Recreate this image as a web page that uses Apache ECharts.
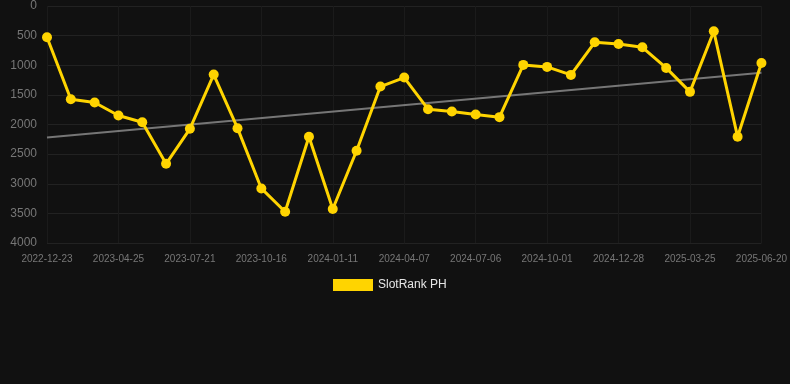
<!DOCTYPE html>
<html><head><meta charset="utf-8">
<script src="https://cdn.jsdelivr.net/npm/echarts@6/dist/echarts.min.js"></script>
<style>html,body{margin:0;padding:0;background:#111111;}#c{width:790px;height:384px;}</style>
</head><body><div id="c"></div>
<script>
const categories = ['2022-12-23','2023-02-25','2023-03-27','2023-04-25','2023-05-24','2023-06-22','2023-07-21','2023-08-19','2023-09-17','2023-10-16','2023-11-14','2023-12-13','2024-01-11','2024-02-09','2024-03-09','2024-04-07','2024-05-07','2024-06-06','2024-07-06','2024-08-04','2024-09-02','2024-10-01','2024-10-30','2024-11-29','2024-12-28','2025-01-26','2025-02-24','2025-03-25','2025-04-23','2025-05-22','2025-06-20'];
const rankValues = [528,1573,1629,1848,1961,2663,2073,1157,2062,3079,3472,2208,3427,2444,1360,1208,1742,1781,1831,1876,994,1028,1163,612,640,697,1045,1449,427,2208,961];
const trendEnds = [2220,1125];
const yTicks = [0,500,1000,1500,2000,2500,3000,3500,4000];

const chart = echarts.init(document.getElementById('c'));
chart.setOption({
  backgroundColor:'#111111',
  animation:false,
  grid:{left:47,right:28,top:6,bottom:141,containLabel:false},
  legend:{data:[{name:'SlotRank PH',icon:'rect'}],top:274,left:328,itemWidth:40,itemHeight:12,itemGap:10,
    textStyle:{color:'#e6e6e6',fontSize:12,fontFamily:'Arial, Liberation Sans, sans-serif'}},
  xAxis:{type:'category',data:categories,boundaryGap:false,
    axisLine:{show:false},
    axisTick:{show:false},
    axisLabel:{interval:2,color:'#777777',fontSize:10,margin:11,fontFamily:'Arial, Liberation Sans, sans-serif'},
    splitLine:{show:true,interval:2,lineStyle:{color:'#1b1b1b'}}},
  yAxis:{type:'value',inverse:true,min:yTicks[0],max:yTicks[yTicks.length-1],interval:500,
    axisLine:{show:false},axisTick:{show:false},
    axisLabel:{color:'#777777',fontSize:12,margin:10,formatter:function(v){return String(v);},fontFamily:'Arial, Liberation Sans, sans-serif'},
    splitLine:{lineStyle:{color:'#222222'}}},
  series:[
    {name:'SlotRank PH',type:'line',data:rankValues,symbol:'circle',symbolSize:10,
      lineStyle:{color:'#FFD400',width:3},itemStyle:{color:'#FFD400'},z:3},
    {name:'trend',type:'line',data:[[0,trendEnds[0]],[categories.length-1,trendEnds[1]]],
      symbol:'none',lineStyle:{color:'#888888',width:2,opacity:0.85},z:2,silent:true}
  ]
});
</script></body></html>
